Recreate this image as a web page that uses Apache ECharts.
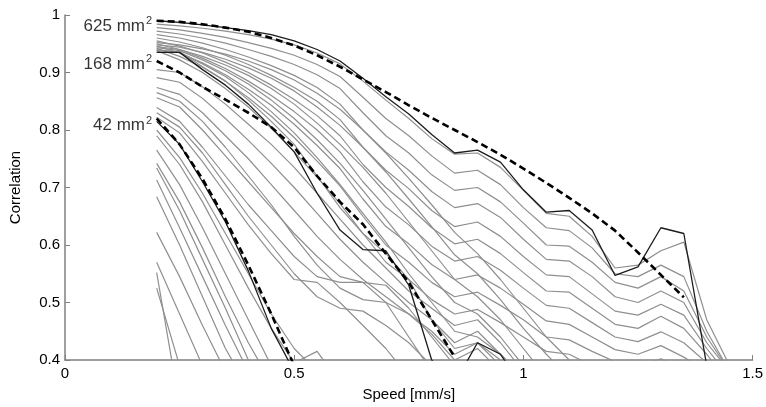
<!DOCTYPE html>
<html>
<head>
<meta charset="utf-8">
<script src="https://cdn.jsdelivr.net/npm/echarts@6/dist/echarts.min.js"></script>
<style>
  html, body { margin: 0; padding: 0; background: #fff; }
  #chart { width: 766px; height: 407px; }
</style>
</head>
<body>
<div id="chart"></div>
<script>
// speed samples (mm/s), shared by every curve
const speeds = [0.2, 0.25, 0.3, 0.35, 0.4, 0.45, 0.5, 0.55, 0.6, 0.65, 0.7, 0.75, 0.8,
  0.85, 0.9, 0.95, 1.0, 1.05, 1.1, 1.15, 1.2, 1.25, 1.3, 1.35, 1.4, 1.45];

// highlighted measured curves (black)
const black625 = [0.99, 0.987, 0.983, 0.978, 0.973, 0.966, 0.955, 0.94, 0.92, 0.89, 0.858, 0.828, 0.792,
  0.76, 0.765, 0.744, 0.696, 0.657, 0.66, 0.626, 0.547, 0.562, 0.63, 0.62, 0.39];
const black168 = [0.935, 0.935, 0.905, 0.878, 0.845, 0.805, 0.762, 0.69, 0.626, 0.592, 0.59, 0.53, 0.40,
  0.36, 0.43, 0.41, 0.35];
const black42 = [0.815, 0.775, 0.71, 0.64, 0.555, 0.455, 0.38];

// fitted curves (dashed)
const fit625 = [0.99, 0.988, 0.984, 0.978, 0.971, 0.96, 0.947, 0.93, 0.91, 0.888, 0.866, 0.843, 0.821,
  0.8, 0.779, 0.757, 0.733, 0.708, 0.682, 0.655, 0.625, 0.587, 0.548, 0.509];
const fit168 = [0.92, 0.90, 0.875, 0.853, 0.83, 0.805, 0.77, 0.72, 0.675, 0.636, 0.585, 0.535, 0.47, 0.405];
const fit42 = [0.82, 0.775, 0.715, 0.645, 0.565, 0.48, 0.39];

// other areas (gray)
const upper1 = [0.984, 0.981, 0.977, 0.972, 0.966, 0.958, 0.948, 0.934, 0.915, 0.885, 0.852, 0.82, 0.785,
  0.758, 0.76, 0.735, 0.695, 0.655, 0.65, 0.615, 0.56, 0.565, 0.59, 0.605, 0.47, 0.39];
const upper2 = [0.978, 0.974, 0.968, 0.961, 0.952, 0.942, 0.93, 0.914, 0.893, 0.857, 0.82, 0.79, 0.755,
  0.725, 0.73, 0.705, 0.665, 0.63, 0.625, 0.595, 0.55, 0.545, 0.565, 0.545, 0.45, 0.38];
const upper3 = [0.972, 0.967, 0.96, 0.951, 0.94, 0.928, 0.914, 0.896, 0.872, 0.83, 0.79, 0.76, 0.722,
  0.695, 0.70, 0.675, 0.638, 0.6, 0.598, 0.57, 0.535, 0.525, 0.545, 0.52, 0.44, 0.38];
const upper4 = [0.966, 0.96, 0.951, 0.94, 0.927, 0.912, 0.895, 0.874, 0.845, 0.8, 0.762, 0.73, 0.693,
  0.665, 0.672, 0.648, 0.61, 0.575, 0.572, 0.545, 0.51, 0.5, 0.52, 0.5, 0.43, 0.38];
const upper5 = [0.96, 0.953, 0.943, 0.93, 0.914, 0.895, 0.874, 0.85, 0.818, 0.77, 0.73, 0.698, 0.66,
  0.632, 0.64, 0.615, 0.58, 0.548, 0.545, 0.515, 0.485, 0.478, 0.497, 0.478, 0.42, 0.37];
const upper6 = [0.955, 0.946, 0.934, 0.918, 0.9, 0.878, 0.853, 0.825, 0.79, 0.74, 0.70, 0.667, 0.63,
  0.602, 0.61, 0.585, 0.552, 0.52, 0.518, 0.49, 0.462, 0.455, 0.476, 0.455, 0.41, 0.36];
const upper7 = [0.95, 0.94, 0.925, 0.907, 0.885, 0.86, 0.832, 0.8, 0.762, 0.71, 0.666, 0.635, 0.598,
  0.572, 0.58, 0.556, 0.525, 0.495, 0.49, 0.465, 0.44, 0.432, 0.449, 0.43, 0.395, 0.35];
const upper8 = [0.946, 0.934, 0.917, 0.896, 0.871, 0.843, 0.81, 0.773, 0.733, 0.68, 0.632, 0.602, 0.566,
  0.54, 0.548, 0.525, 0.497, 0.468, 0.462, 0.44, 0.418, 0.41, 0.425, 0.405, 0.38];
const upper9 = [0.942, 0.928, 0.909, 0.885, 0.856, 0.824, 0.787, 0.746, 0.703, 0.65, 0.6, 0.57, 0.535,
  0.51, 0.518, 0.495, 0.47, 0.44, 0.435, 0.415, 0.397, 0.39, 0.402, 0.385];
const upper10 = [0.938, 0.922, 0.9, 0.872, 0.84, 0.803, 0.762, 0.718, 0.672, 0.62, 0.57, 0.54, 0.505,
  0.48, 0.488, 0.465, 0.44, 0.415, 0.41, 0.39];
const mid1 = [0.938, 0.936, 0.91, 0.885, 0.852, 0.815, 0.775, 0.72, 0.665, 0.62, 0.585, 0.54, 0.47, 0.42, 0.43, 0.40, 0.36];
const mid2 = [0.94, 0.935, 0.915, 0.893, 0.865, 0.832, 0.795, 0.752, 0.705, 0.655, 0.605, 0.55, 0.5, 0.45, 0.44, 0.41, 0.37];
const mid3 = [0.943, 0.938, 0.922, 0.903, 0.88, 0.852, 0.82, 0.783, 0.742, 0.695, 0.645, 0.595, 0.545, 0.5, 0.48, 0.44, 0.39];
const mid4 = [0.945, 0.94, 0.928, 0.913, 0.895, 0.872, 0.845, 0.812, 0.775, 0.735, 0.69, 0.64, 0.59, 0.54, 0.51, 0.47, 0.42, 0.37];
const mid5 = [0.948, 0.944, 0.935, 0.923, 0.908, 0.89, 0.868, 0.84, 0.808, 0.77, 0.727, 0.68, 0.632, 0.583, 0.55, 0.505, 0.455, 0.41, 0.37];
const mid6 = [0.952, 0.948, 0.941, 0.932, 0.92, 0.905, 0.887, 0.864, 0.836, 0.8, 0.76, 0.716, 0.67, 0.622, 0.585, 0.54, 0.49, 0.44, 0.40, 0.36];
const near1 = [0.905, 0.9, 0.875, 0.845, 0.81, 0.775, 0.735, 0.69, 0.645, 0.6, 0.56, 0.52, 0.49, 0.46, 0.47, 0.43, 0.38];
const near2 = [0.891, 0.883, 0.855, 0.82, 0.782, 0.742, 0.70, 0.655, 0.61, 0.57, 0.535, 0.50, 0.47, 0.43, 0.45, 0.41, 0.37];
const near3 = [0.874, 0.862, 0.83, 0.79, 0.75, 0.705, 0.66, 0.615, 0.575, 0.54, 0.51, 0.48, 0.45, 0.41, 0.43, 0.39];
const near4 = [0.856, 0.84, 0.80, 0.755, 0.71, 0.665, 0.62, 0.58, 0.545, 0.535, 0.53, 0.49, 0.44, 0.39];
const near5 = [0.839, 0.815, 0.77, 0.72, 0.67, 0.625, 0.58, 0.545, 0.535, 0.535, 0.50, 0.44, 0.38];
const near6 = [0.822, 0.795, 0.745, 0.69, 0.635, 0.585, 0.54, 0.535, 0.50, 0.46, 0.42, 0.37];
const near7 = [0.865, 0.85, 0.815, 0.77, 0.72, 0.67, 0.615, 0.565, 0.525, 0.505, 0.50, 0.48, 0.445, 0.40, 0.42, 0.38];
const near8 = [0.83, 0.805, 0.76, 0.705, 0.65, 0.6, 0.55, 0.51, 0.49, 0.485, 0.46, 0.43, 0.39];
const low1 = [0.80, 0.752, 0.69, 0.62, 0.55, 0.48, 0.42, 0.38];
const low2 = [0.79, 0.74, 0.675, 0.60, 0.525, 0.455, 0.395, 0.415, 0.36];
const low3 = [0.765, 0.705, 0.63, 0.55, 0.47, 0.39];
const low4 = [0.742, 0.675, 0.595, 0.51, 0.43, 0.36];
const low5 = [0.734, 0.66, 0.575, 0.49, 0.40, 0.34];
const low6 = [0.713, 0.63, 0.545, 0.46, 0.38];
const low7 = [0.684, 0.60, 0.51, 0.42, 0.35];
const low8 = [0.622, 0.545, 0.46, 0.38];
const low9 = [0.57, 0.48, 0.39];
const low10 = [0.552, 0.32];
const low11 = [0.525, 0.39, 0.30];

const grayLines = [upper1, upper2, upper3, upper4, upper5, upper6, upper7, upper8, upper9, upper10,
  mid1, mid2, mid3, mid4, mid5, mid6, near1, near2, near3, near4, near5, near6, near7, near8,
  low1, low2, low3, low4, low5, low6, low7, low8, low9, low10, low11];
const blackLines = [black625, black168, black42];
const fitLines = [fit625, fit168, fit42];

// area labels: [speed, correlation, text]
const areaLabels = [[0.19, 0.981, '625'], [0.19, 0.915, '168'], [0.19, 0.808, '42']];

const font = 'Liberation Sans, Arial, sans-serif';

function lineSeries(vals, color, width, dash, z) {
  return {
    type: 'line',
    data: vals.map((v, i) => [speeds[i], v]),
    symbol: 'none',
    silent: true,
    z: z,
    lineStyle: { color: color, width: width, type: dash },
  };
}

const series = [];
grayLines.forEach(v => series.push(lineSeries(v, '#8f8f8f', 1.2, 'solid', 2)));
blackLines.forEach(v => series.push(lineSeries(v, '#1c1c1c', 1.3, 'solid', 3)));
fitLines.forEach(v => series.push(lineSeries(v, '#000', 2.6, [7, 4], 4)));
series.push({
  type: 'scatter',
  data: areaLabels,
  symbolSize: 0,
  silent: true,
  z: 5,
  label: {
    show: true,
    position: 'left',
    distance: 0,
    formatter: p => '{a|' + p.value[2] + ' mm}{s|2}',
    rich: {
      a: { fontSize: 17, color: '#000', fontFamily: font },
      s: { fontSize: 11, color: '#000', fontFamily: font, verticalAlign: 'top', padding: [0, 0, 9, 1] },
    },
  },
});

const chart = echarts.init(document.getElementById('chart'));
chart.setOption({
  animation: false,
  grid: { left: 62, right: 9, top: 15, bottom: 46 },
  xAxis: {
    type: 'value',
    min: 0, max: 1.5, interval: 0.5,
    name: 'Speed [mm/s]',
    nameLocation: 'middle',
    nameGap: 27,
    nameTextStyle: { fontSize: 15, color: '#000', fontFamily: font },
    axisLine: { lineStyle: { color: '#808080', width: 1.5 } },
    axisTick: { inside: true, length: 5, lineStyle: { color: '#808080' } },
    axisLabel: { fontSize: 15, color: '#000', fontFamily: font, margin: 6 },
    splitLine: { show: false },
  },
  yAxis: {
    type: 'value',
    min: 0.4, max: 1, interval: 0.1,
    name: 'Correlation',
    nameLocation: 'middle',
    nameGap: 42,
    nameTextStyle: { fontSize: 15, color: '#000', fontFamily: font },
    axisLine: { show: true, lineStyle: { color: '#808080', width: 1.5 } },
    axisTick: { show: true, inside: true, length: 5, lineStyle: { color: '#808080' } },
    axisLabel: { fontSize: 15, color: '#000', fontFamily: font, margin: 5 },
    splitLine: { show: false },
  },
  series: series,
});
</script>
</body>
</html>
